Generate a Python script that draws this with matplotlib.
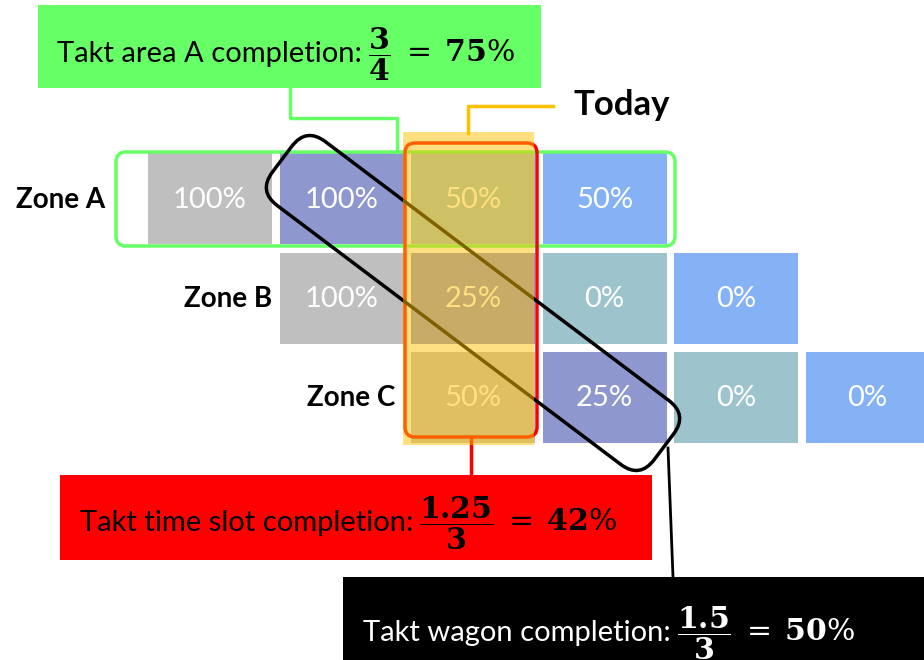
# -*- coding: utf-8 -*-

import matplotlib
matplotlib.use("Agg")
from matplotlib import pyplot as plt
from matplotlib.patches import Rectangle, FancyBboxPatch
from matplotlib.transforms import Affine2D

plt.rcParams['font.family'] = ['Lato', 'DejaVu Sans']
plt.rcParams['mathtext.fontset'] = 'dejavuserif'

# Takt plan data: each zone runs the same trade sequence, shifted by one takt
zones = ["Zone A", "Zone B", "Zone C"]
start_takt = [0, 1, 2]
trade_colors = ["#bfbfbf", "#8f97cf", "#9dc4cc", "#85b1f5"]
progress = [
    [100, 100, 50, 50],   # Zone A
    [100, 25, 0, 0],      # Zone B
    [50, 25, 0, 0],       # Zone C
]
today_takt = 2
wagon_trade = 1

# Completion figures derived from the plan
area_done = sum(progress[0]) / 100.0
slot_done = sum(p[today_takt - s] for p, s in zip(progress, start_takt)) / 100.0
wagon_done = sum(p[wagon_trade] for p in progress) / 100.0
n_trades = len(trade_colors)
n_zones = len(zones)

# Grid layout (pixels)
x0, col_step, cell_w = 148, 131.5, 124
y0, row_step, cell_h = 153, 99.5, 91

fig = plt.figure(figsize=(9.24, 6.6), dpi=100)
ax = fig.add_axes([0, 0, 1, 1])
ax.set_xlim(0, 924)
ax.set_ylim(660, 0)
ax.axis('off')

# Cells
for r, zone in enumerate(zones):
    for t in range(n_trades):
        c = start_takt[r] + t
        cx = x0 + c * col_step
        cy = y0 + r * row_step
        ax.add_patch(Rectangle((cx, cy), cell_w, cell_h, facecolor=trade_colors[t],
                               edgecolor='none', zorder=1))
        ax.text(cx + cell_w / 2, cy + cell_h / 2 + 1, "%d%%" % progress[r][t],
                color='white', fontsize=21, ha='center', va='center', zorder=2)

# Zone labels
label_right = [105, 272, 395]
for r, zone in enumerate(zones):
    ax.text(label_right[r], y0 + r * row_step + cell_h / 2 + 1, zone, fontsize=20,
            fontweight='bold', ha='right', va='center', zorder=2)

# Takt area A frame (green)
ax.add_patch(FancyBboxPatch((116, 152), 559, 94, boxstyle="round,pad=0,rounding_size=10",
                            facecolor='none', edgecolor='#66ff66', linewidth=2.5, zorder=3))
# Takt time slot frame (red)
tx = x0 + today_takt * col_step
ax.add_patch(FancyBboxPatch((tx - 6, 143), cell_w + 8, 294, boxstyle="round,pad=0,rounding_size=10",
                            facecolor='none', edgecolor='#ff0000', linewidth=2.5, zorder=3))
# Takt wagon frame (black, rotated)
wx, wy, wl, wh = 473, 303, 478, 80
wagon = FancyBboxPatch((wx - wl / 2, wy - wh / 2), wl, wh, boxstyle="round,pad=0,rounding_size=24",
                       facecolor='none', edgecolor='black', linewidth=2.5, zorder=3)
wagon.set_transform(Affine2D().rotate_deg_around(wx, wy, 37) + ax.transData)
ax.add_patch(wagon)

# Today column highlight
ax.add_patch(Rectangle((tx - 8, 132), cell_w + 7, 313, facecolor='#ffc000', alpha=0.5,
                       edgecolor='none', zorder=4))

# Connectors
ax.plot([468, 468, 553], [133, 106, 106], color='#ffc000', linewidth=2.5, zorder=2)
ax.plot([290, 290, 397, 397], [88, 118, 118, 152], color='#66ff66', linewidth=2.5, zorder=2)
ax.plot([471, 471], [437, 475], color='#ff0000', linewidth=2.5, zorder=2)
ax.plot([668, 673], [448, 577], color='black', linewidth=2, zorder=2)

ax.text(574, 105, "Today", fontsize=25, fontweight='bold', ha='left', va='center', zorder=5)

# Annotation boxes: plain label followed by the fraction
renderer = fig.canvas.get_renderer()


def label_box(x, y, w, h, face, tx_, base, label, num, den, pct, color):
    ax.add_patch(Rectangle((x, y), w, h, facecolor=face, edgecolor='none', zorder=5))
    t = ax.text(tx_, base, label, fontsize=21, color=color, ha='left', va='baseline', zorder=6)
    bb = t.get_window_extent(renderer).transformed(ax.transData.inverted())
    ax.text(bb.x1 + 6, base,
            r"$\dfrac{\mathbf{%s}}{\mathbf{%d}}\;=\;\mathbf{%d}\%%$" % (num, den, pct),
            fontsize=21.5, color=color, ha='left', va='baseline', zorder=6)


label_box(38, 5, 503, 83, '#66ff66', 57, 62, "Takt area A completion:",
          "%g" % area_done, n_trades, round(100 * area_done / n_trades), 'black')
label_box(60, 475, 592, 85, '#ff0000', 80, 531, "Takt time slot completion:",
          "%g" % slot_done, n_zones, round(100 * slot_done / n_zones), 'black')
label_box(343, 577, 590, 90, 'black', 363, 641, "Takt wagon completion:",
          "%g" % wagon_done, n_zones, round(100 * wagon_done / n_zones), 'white')

plt.savefig("out.png", dpi=100)
